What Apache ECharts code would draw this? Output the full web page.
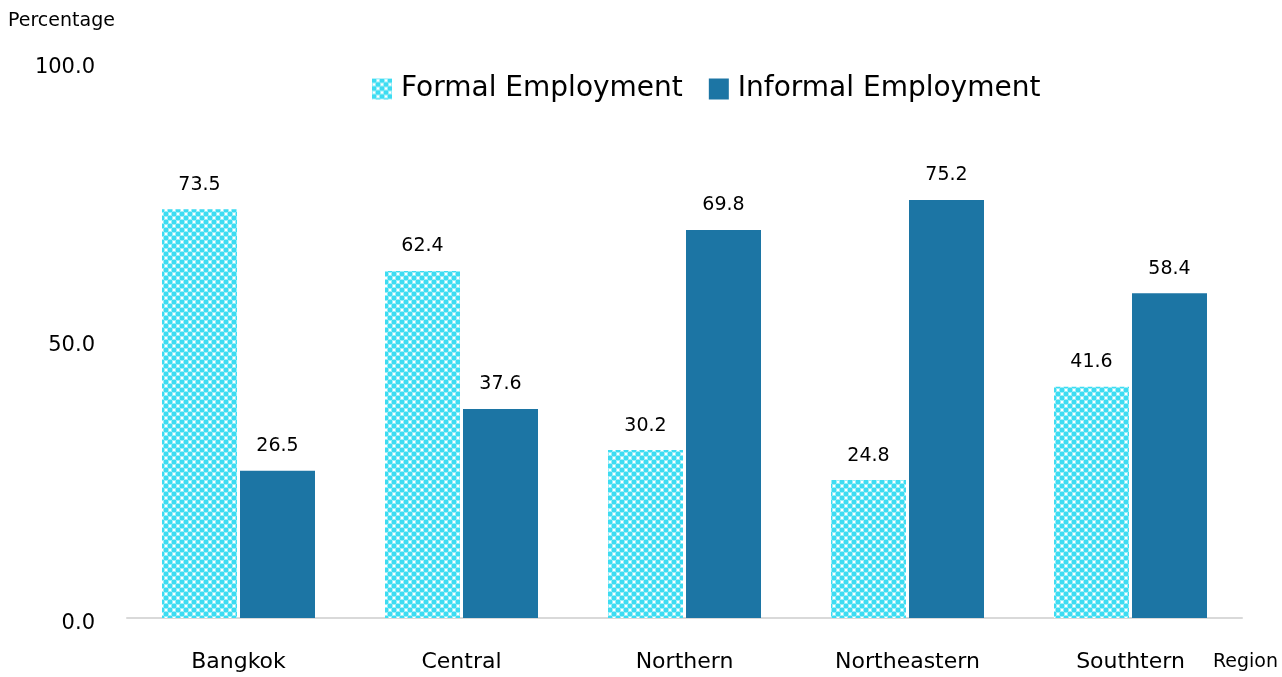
<!DOCTYPE html>
<html>
<head>
<meta charset="utf-8">
<script src="https://cdn.jsdelivr.net/npm/echarts@6/dist/echarts.min.js"></script>
<style>
  html, body { margin: 0; padding: 0; background: #fff; }
  #chart { width: 1282px; height: 677px; }
</style>
</head>
<body>
<div id="chart"></div>
<script>
const regions = ['Bangkok', 'Central', 'Northern', 'Northeastern', 'Southtern']
const formal = [73.5, 62.4, 30.2, 24.8, 41.6]
const informal = [26.5, 37.6, 69.8, 75.2, 58.4]
const yTicks = [0, 50, 100]

// checker pattern for formal bars
function checker() {
  const c = document.createElement('canvas')
  c.width = 8; c.height = 8
  const ctx = c.getContext('2d')
  ctx.fillStyle = '#ffffff'
  ctx.fillRect(0, 0, 8, 8)
  ctx.fillStyle = '#3ddcf2'
  ctx.fillRect(0, 0, 4, 4)
  ctx.fillRect(4, 4, 4, 4)
  ctx.fillStyle = '#9aeef8'
  ctx.fillRect(4, 0, 4, 4)
  ctx.fillRect(0, 4, 4, 4)
  ctx.fillStyle = '#ffffff'
  ctx.fillRect(5, 1, 2, 2)
  ctx.fillRect(1, 5, 2, 2)
  return c
}

const font = '"DejaVu Sans", sans-serif'
const chart = echarts.init(document.getElementById('chart'))

const labelStyle = {
  show: true,
  position: 'top',
  distance: 15,
  color: '#000',
  fontSize: 19,
  fontFamily: font,
  formatter: p => p.value.toFixed(1),
}

chart.setOption({
  animation: false,
  backgroundColor: '#fff',
  grid: { left: 127, right: 40, top: 62, bottom: 59 },
  graphic: [
    { type: 'text', left: 8, top: 12, style: { text: 'Percentage', fontSize: 19, fontFamily: font, fill: '#000' } },
    { type: 'text', right: 4, top: 653, style: { text: 'Region', fontSize: 19, fontFamily: font, fill: '#000' } },
  ],
  legend: {
    top: 70,
    left: 367,
    icon: 'rect',
    itemWidth: 20,
    itemHeight: 21,
    itemGap: 26,
    textStyle: { fontSize: 28, fontFamily: font, color: '#000', padding: [0, 0, 0, 4] },
    data: ['Formal Employment', 'Informal Employment'],
  },
  xAxis: {
    type: 'category',
    data: regions,
    axisLine: { lineStyle: { color: '#d9d9d9', width: 2 } },
    axisTick: { show: false },
    axisLabel: { color: '#000', fontSize: 22, fontFamily: font, margin: 33 },
  },
  yAxis: {
    type: 'value',
    min: yTicks[0],
    max: yTicks[yTicks.length - 1],
    interval: 50,
    axisLine: { show: false },
    axisTick: { show: false },
    splitLine: { show: false },
    axisLabel: {
      color: '#000', fontSize: 21, fontFamily: font, margin: 32,
      verticalAlign: 'top', lineHeight: 12,
      formatter: v => v.toFixed(1),
    },
  },
  series: [
    {
      name: 'Formal Employment',
      type: 'bar',
      data: formal,
      barWidth: 75,
      barGap: '4%',
      itemStyle: { color: { image: checker(), repeat: 'repeat' } },
      label: labelStyle,
    },
    {
      name: 'Informal Employment',
      type: 'bar',
      data: informal,
      barWidth: 75,
      itemStyle: { color: '#1c75a4' },
      label: labelStyle,
    },
  ],
})
</script>
</body>
</html>
